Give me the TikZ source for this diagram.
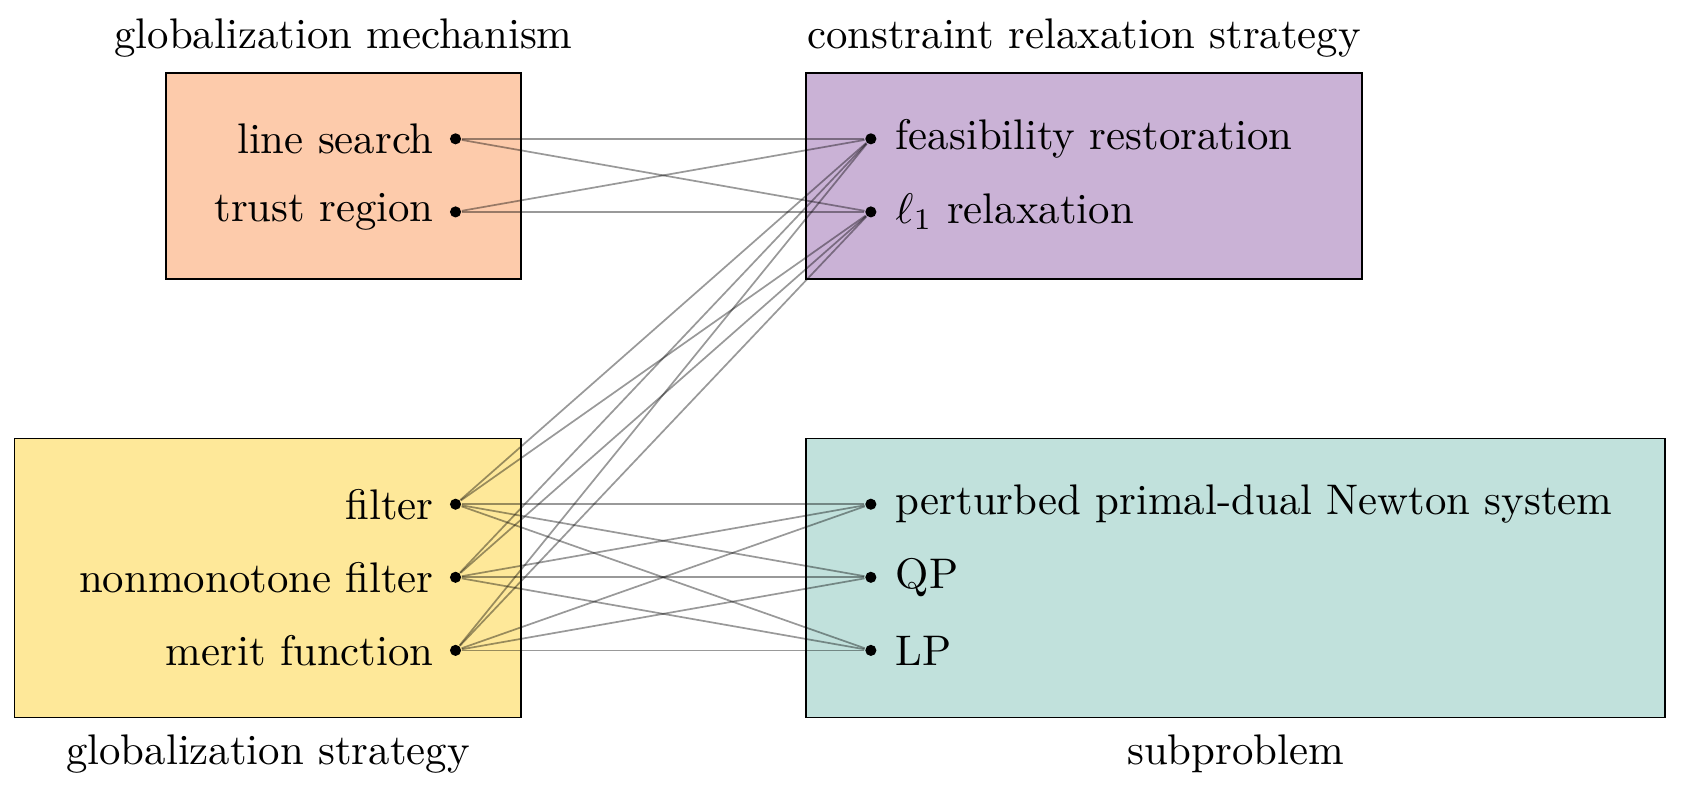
\documentclass[tikz,border=0pt]{standalone}
\definecolor{mechcolor}{HTML}{FDCBAB}
\definecolor{relaxcolor}{HTML}{CAB2D6}
\definecolor{stratcolor}{HTML}{FEE899}
\definecolor{subcolor}{HTML}{C1E1DC}
\tikzstyle{dot}=[circle,fill=black,minimum size=2.6pt,inner sep=0pt]
\tikzstyle{box}=[draw,thin]
\tikzstyle{link} = [draw,thin,black,opacity=0.4]
\tikzstyle{lefttext} = [anchor=east,xshift=-0.055cm]
\tikzstyle{righttext} = [anchor=west,xshift=0.08cm]

\begin{document}
\begin{tikzpicture}
    \useasboundingbox (0,0) rectangle (13.81,6.50);
    \draw[box, fill=mechcolor] (1.36,4.21) rectangle (4.28,5.90);
    \draw[box, fill=relaxcolor] (6.62,4.21) rectangle (11.18,5.90);
    \draw[box, fill=stratcolor] (0.12,0.61) rectangle (4.28,2.90);
    \draw[box, fill=subcolor] (6.62,0.61) rectangle (13.67,2.90);
        \node (mechtitle) at (2.82,6.19) {globalization mechanism};
        \node (relaxtitle) at (8.90,6.19) {constraint relaxation strategy};
        \node (strattitle) at (2.20,0.31) {globalization strategy};
        \node (subtitle) at (10.145,0.31) {subproblem};
        \node[dot] (ls) at (3.74,5.36) {};
        \node[dot] (tr) at (3.74,4.76) {};
        \node[dot] (fil) at (3.74,2.36) {};
        \node[dot] (nmf) at (3.74,1.76) {};
        \node[dot] (mf) at (3.74,1.16) {};
        \node[dot] (fr) at (7.15,5.36) {};
        \node[dot] (lr) at (7.15,4.76) {};
        \node[dot] (pd) at (7.15,2.36) {};
        \node[dot] (qp) at (7.15,1.76) {};
        \node[dot] (lp) at (7.15,1.16) {};
        \node[lefttext] (lstext) at (ls) {line search};
        \node[lefttext] (trtext) at (tr) {trust region};
        \node[lefttext] (filtext) at (fil) {filter};
        \node[lefttext] (nmftext) at (nmf) {nonmonotone filter};
        \node[lefttext] (mftext) at (mf) {merit function};
        \node[righttext] (frtext) at (fr) {feasibility restoration};
        \node[righttext] (lrtext) at (lr) {$\ell_1$ relaxation};
        \node[righttext] (pdtext) at (pd) {perturbed primal-dual Newton system};
        \node[righttext] (qptext) at (qp) {QP};
        \node[righttext] (lptext) at (lp) {LP};
        \path[link] (ls) -- (fr);
        \path[link] (ls) -- (lr);
        \path[link] (tr) -- (fr);
        \path[link] (tr) -- (lr);
        \path[link] (fil) -- (fr);
        \path[link] (fil) -- (lr);
        \path[link] (nmf) -- (fr);
        \path[link] (nmf) -- (lr);
        \path[link] (mf) -- (fr);
        \path[link] (mf) -- (lr);
        \path[link] (fil) -- (pd);
        \path[link] (fil) -- (qp);
        \path[link] (fil) -- (lp);
        \path[link] (nmf) -- (pd);
        \path[link] (nmf) -- (qp);
        \path[link] (nmf) -- (lp);
        \path[link] (mf) -- (pd);
        \path[link] (mf) -- (qp);
        \path[link] (mf) -- (lp);
    \end{tikzpicture}
\end{document}
